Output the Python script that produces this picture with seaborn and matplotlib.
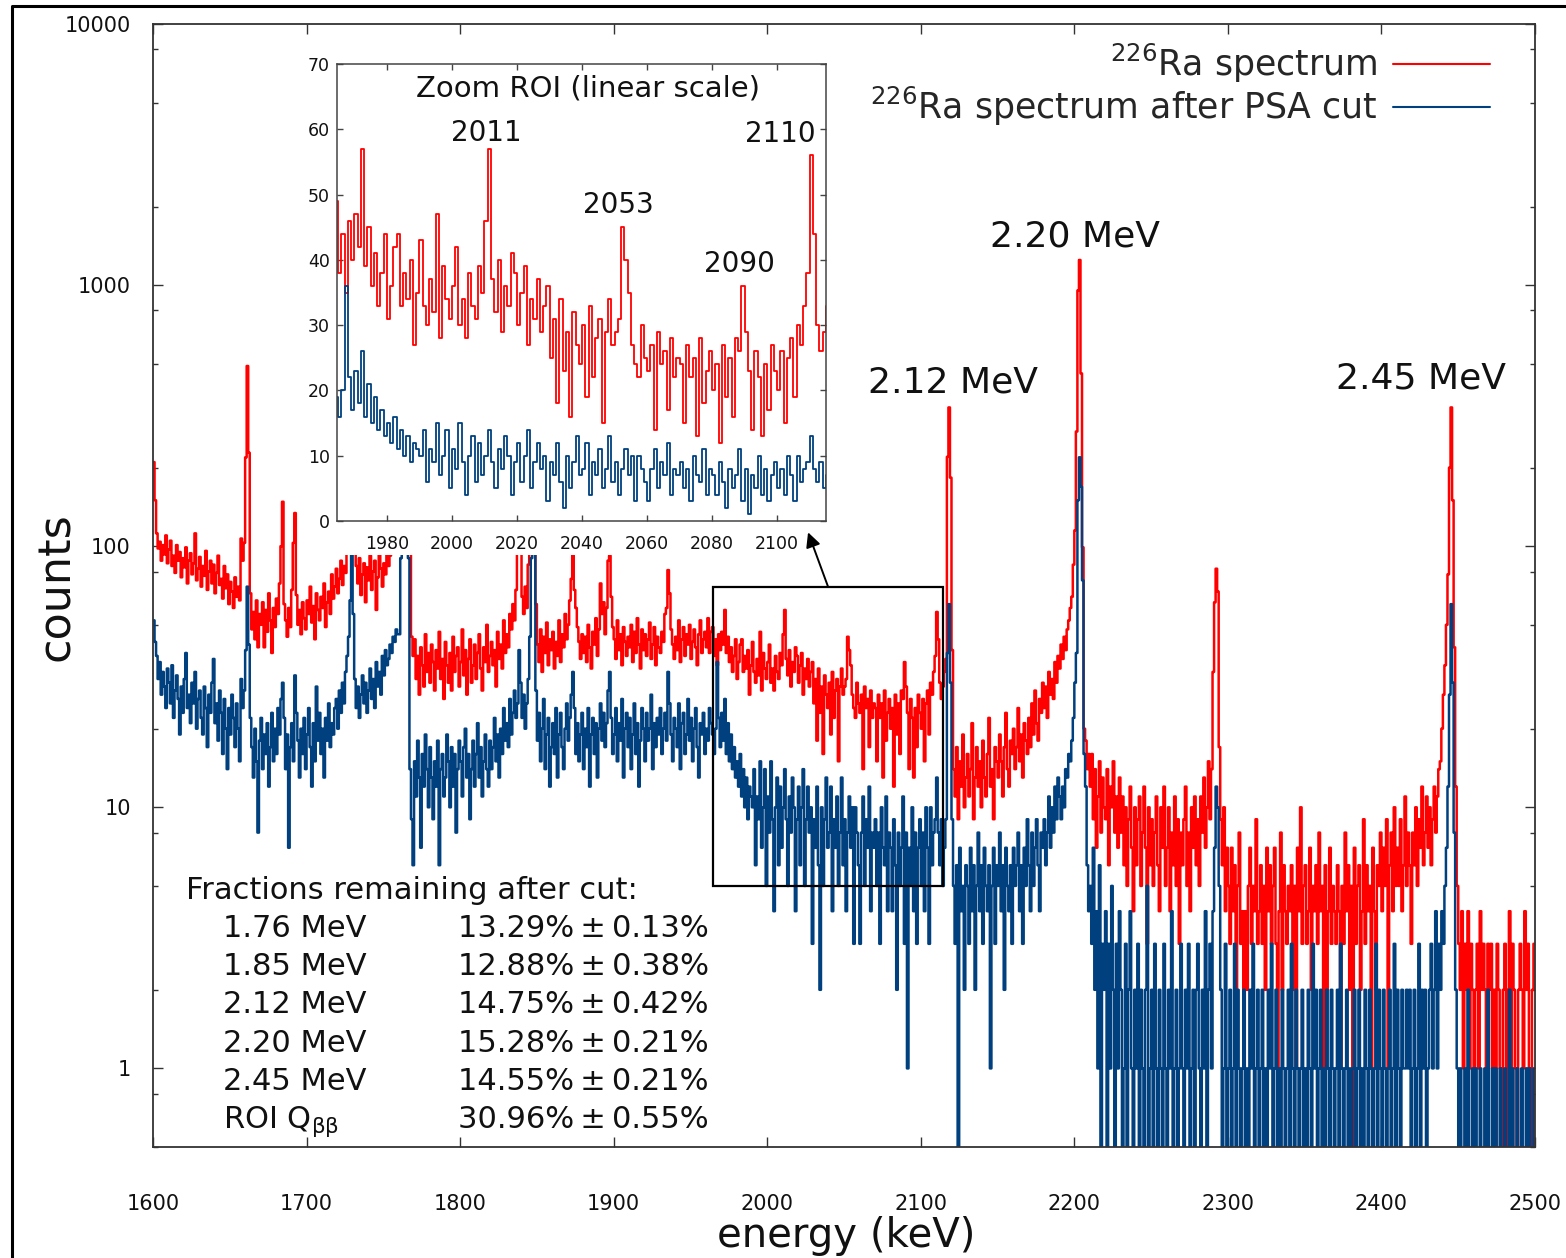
import numpy as np
import matplotlib
matplotlib.use("Agg")
import matplotlib.pyplot as plt
import matplotlib.ticker as mticker
from matplotlib.patches import Rectangle, FancyArrowPatch
from matplotlib.lines import Line2D
import seaborn as sns

# 226Ra spectrum, 1 keV bins starting at 1600 keV (one row = 10 keV)
red_counts = [
    210, 150, 112, 98, 104, 88, 101, 93, 110, 86,      # 1600
    97, 105, 84, 92, 79, 101, 88, 95, 76, 90,          # 1610
    83, 99, 72, 88, 94, 78, 86, 112, 74, 82,           # 1620
    91, 70, 84, 77, 96, 68, 80, 88, 72, 85,            # 1630
    66, 79, 92, 71, 75, 63, 84, 69, 78, 60,            # 1640
    73, 67, 58, 76, 64, 70, 62, 107, 88, 103,          # 1650
    219, 490, 228, 66, 48, 56, 44, 62, 41, 55,         # 1660
    50, 61, 41, 57, 47, 66, 52, 39, 58, 49,            # 1670
    63, 55, 72, 100, 148, 60, 52, 45, 58, 49,          # 1680
    68, 103, 134, 65, 50, 57, 46, 61, 53, 48,          # 1690
    62, 55, 70, 51, 59, 44, 66, 57, 52, 64,            # 1700
    58, 72, 49, 61, 67, 55, 78, 63, 70, 82,            # 1710
    66, 75, 88, 71, 84, 79, 95, 110, 180, 520,         # 1720
    240, 95, 84, 72, 90, 65, 78, 86, 61, 83,           # 1730
    74, 92, 68, 80, 88, 57, 76, 95, 82, 70,            # 1740
    86, 78, 99, 84, 92, 105, 96, 112, 120, 98,         # 1750
    95, 300, 1500, 3000, 3400, 1800, 500, 120, 45, 38, # 1760
    44, 31, 38, 27, 41, 35, 29, 46, 33, 39,            # 1770
    30, 42, 36, 28, 40, 34, 47, 31, 37, 26,            # 1780
    43, 35, 30, 39, 28, 45, 33, 38, 41, 29,            # 1790
    36, 48, 32, 40, 27, 37, 44, 30, 35, 42,            # 1800
    31, 39, 46, 34, 28, 41, 36, 50, 33, 38,            # 1810
    43, 35, 40, 29, 47, 37, 42, 34, 52, 39,            # 1820
    46, 41, 55, 48, 60, 52, 68, 95, 170, 120,          # 1830
    64, 55, 70, 58, 85, 240, 800, 1100, 420, 60,       # 1840
    42, 36, 48, 33, 45, 39, 51, 35, 44, 40,            # 1850
    47, 34, 43, 38, 52, 36, 46, 41, 55, 44,            # 1860
    50, 62, 75, 100, 68, 58, 49, 43, 37, 46,           # 1870
    39, 45, 36, 50, 41, 34, 47, 42, 53, 38,            # 1880
    48, 72, 55, 61, 46, 58, 88, 92, 64, 49,            # 1890
    44, 37, 52, 40, 46, 35, 49, 43, 38, 45,            # 1900
    41, 50, 36, 47, 39, 53, 42, 34, 48, 40,            # 1910
    46, 38, 44, 51, 37, 42, 49, 35, 45, 41,            # 1920
    39, 47, 43, 55, 58, 81, 66, 48, 42, 37,            # 1930
    45, 40, 52, 36, 44, 49, 38, 46, 42, 50,            # 1940
    37, 43, 48, 41, 35, 46, 52, 39, 44, 47,            # 1950
    41, 53, 39, 47, 49, 38, 44, 35, 46, 40,            # 1960
    47, 42, 57, 39, 45, 36, 41, 33, 38, 44,            # 1970
    31, 36, 42, 44, 33, 38, 34, 40, 27, 35,            # 1980
    43, 33, 30, 37, 32, 47, 28, 39, 34, 31,            # 1990
    36, 42, 30, 34, 28, 38, 33, 31, 39, 35,            # 2000
    46, 57, 37, 32, 40, 29, 36, 33, 41, 38,            # 2010
    30, 35, 39, 27, 34, 31, 37, 29, 33, 36,            # 2020
    25, 31, 18, 34, 23, 29, 16, 32, 27, 24,            # 2030
    30, 19, 33, 22, 28, 31, 15, 29, 34, 27,            # 2040
    29, 31, 45, 40, 35, 27, 24, 22, 30, 25,            # 2050
    23, 27, 14, 29, 24, 26, 17, 28, 22, 25,            # 2060
    24, 15, 27, 22, 25, 13, 28, 18, 23, 26,            # 2070
    20, 24, 12, 27, 19, 25, 16, 28, 26, 36,            # 2080
    29, 23, 14, 26, 22, 13, 24, 17, 27, 23,            # 2090
    20, 26, 15, 25, 28, 19, 30, 27, 33, 38,            # 2100
    56, 44, 30, 26, 29, 33, 37, 220, 340, 183,         # 2110
    40, 14, 11, 17, 9, 15, 12, 19, 10, 13,             # 2120
    16, 11, 14, 21, 9, 13, 17, 12, 15, 10,             # 2130
    18, 13, 11, 16, 22, 12, 14, 9, 17, 15,             # 2140
    13, 19, 15, 11, 17, 23, 14, 12, 18, 16,            # 2150
    20, 14, 17, 24, 15, 19, 13, 21, 18, 16,            # 2160
    22, 17, 25, 19, 28, 21, 18, 26, 23, 30,            # 2170
    24, 29, 22, 33, 27, 31, 26, 36, 30, 38,            # 2180
    34, 42, 37, 45, 40, 48, 52, 58, 64, 85,            # 2190
    115, 275, 954, 1248, 459, 99, 20, 18, 14, 16,      # 2200
    12, 16, 9, 14, 7, 11, 15, 8, 13, 10,               # 2210
    9, 14, 6, 12, 10, 15, 8, 11, 7, 13,                # 2220
    8, 11, 6, 10, 5, 9, 12, 7, 4, 10,                  # 2230
    6, 9, 11, 5, 8, 12, 7, 3, 10, 6,                   # 2240
    9, 5, 8, 11, 6, 4, 10, 7, 12, 5,                   # 2250
    7, 10, 4, 8, 6, 11, 5, 9, 3, 8,                    # 2260
    6, 9, 12, 5, 8, 4, 10, 7, 11, 6,                   # 2270
    9, 5, 11, 8, 13, 7, 10, 15, 9, 14,                 # 2280
    33, 61, 82, 67, 17, 9, 6, 10, 4, 7,                # 2290
    5, 3, 7, 4, 6, 2, 5, 8, 3, 4,                      # 2300
    1, 4, 2, 5, 7, 3, 5, 4, 9, 3,                      # 2310
    4, 6, 3, 5, 2, 7, 4, 6, 3, 5,                      # 2320
    7, 3, 1, 4, 8, 2, 6, 4, 3, 5,                      # 2330
    4, 6, 2, 5, 1, 7, 4, 10, 3, 5,                     # 2340
    6, 3, 4, 7, 2, 5, 4, 6, 3, 8,                      # 2350
    4, 5, 1, 6, 2, 4, 7, 3, 5, 4,                      # 2360
    3, 6, 4, 1, 5, 3, 8, 4, 6, 2,                      # 2370
    5, 0, 7, 3, 5, 6, 2, 4, 9, 3,                      # 2380
    6, 4, 5, 1, 7, 4, 2, 6, 5, 8,                      # 2390
    4, 7, 5, 9, 1, 6, 8, 4, 10, 5,                     # 2400
    7, 5, 9, 4, 6, 11, 5, 8, 6, 3,                     # 2410
    8, 6, 10, 5, 9, 7, 12, 6, 8, 11,                   # 2420
    7, 10, 6, 9, 12, 8, 11, 14, 15, 20,                # 2430
    27, 35, 50, 78, 200, 340, 150, 41, 12, 5,          # 2440
    3, 2, 4, 1, 3, 2, 4, 1, 3, 2,                      # 2450
    0, 2, 3, 1, 4, 2, 3, 2, 1, 3,                      # 2460
    2, 3, 1, 2, 0, 3, 2, 1, 0, 2,                      # 2470
    3, 0, 2, 4, 1, 3, 2, 1, 0, 2,                      # 2480
    3, 2, 1, 4, 2, 3, 1, 0, 2, 3,                      # 2490
]

# same spectrum after the PSA cut
blue_counts = [
    52, 43, 38, 31, 36, 27, 33, 29, 24, 34,            # 1600
    30, 25, 35, 22, 28, 32, 26, 19, 29, 23,            # 1610
    31, 39, 24, 27, 21, 30, 25, 33, 20, 26,            # 1620
    28, 22, 19, 29, 24, 17, 27, 23, 30, 37,            # 1630
    21, 25, 18, 28, 23, 16, 26, 20, 14, 24,            # 1640
    19, 27, 22, 17, 25, 20, 15, 31, 24, 28,            # 1650
    40, 70, 42, 22, 17, 13, 20, 15, 8, 18,             # 1660
    22, 14, 19, 16, 21, 12, 17, 23, 15, 20,            # 1670
    16, 24, 19, 26, 30, 22, 14, 19, 7, 17,             # 1680
    21, 15, 32, 23, 18, 13, 20, 16, 22, 14,            # 1690
    19, 24, 17, 12, 21, 15, 29, 18, 23, 16,            # 1700
    20, 13, 22, 18, 25, 17, 21, 19, 24, 26,            # 1710
    20, 28, 23, 30, 25, 33, 38, 45, 62, 105,           # 1720
    55, 31, 24, 29, 22, 27, 32, 25, 30, 23,            # 1730
    28, 34, 26, 31, 24, 36, 29, 33, 27, 38,            # 1740
    32, 40, 35, 37, 42, 39, 45, 43, 48, 46,            # 1750
    46, 90, 240, 420, 450, 260, 90, 14, 9, 6,          # 1760
    15, 11, 18, 13, 7, 16, 12, 19, 14, 10,             # 1770
    17, 13, 9, 15, 12, 18, 6, 14, 16, 11,              # 1780
    13, 19, 15, 10, 17, 12, 16, 8, 14, 18,             # 1790
    15, 11, 17, 20, 13, 16, 9, 14, 18, 12,             # 1800
    16, 21, 13, 17, 11, 15, 19, 14, 12, 18,            # 1810
    14, 17, 22, 15, 19, 13, 20, 16, 24, 18,            # 1820
    21, 17, 26, 19, 23, 28, 22, 25, 40, 30,            # 1830
    22, 27, 20, 25, 31, 45, 90, 140, 110, 28,          # 1840
    18, 23, 15, 20, 26, 14, 19, 22, 12, 17,            # 1850
    21, 16, 24, 13, 19, 23, 17, 14, 20, 25,            # 1860
    18, 22, 27, 33, 24, 16, 21, 15, 19, 23,            # 1870
    14, 20, 17, 24, 12, 19, 22, 16, 21, 13,            # 1880
    20, 25, 18, 23, 17, 21, 28, 33, 22, 16,            # 1890
    19, 24, 15, 21, 18, 26, 13, 20, 23, 17,            # 1900
    22, 14, 19, 25, 16, 21, 12, 18, 24, 20,            # 1910
    15, 23, 18, 20, 27, 14, 21, 17, 22, 19,            # 1920
    24, 16, 20, 23, 18, 33, 25, 19, 15, 22,            # 1930
    20, 17, 25, 14, 21, 23, 16, 19, 26, 18,            # 1940
    22, 15, 20, 24, 17, 13, 21, 19, 23, 16,            # 1950
    20, 18, 24, 21, 19, 16, 20, 36, 22, 17,            # 1960
    23, 18, 26, 16, 21, 15, 19, 14, 17, 13,            # 1970
    15, 12, 16, 11, 14, 10, 13, 9, 12, 11,             # 1980
    10, 14, 6, 11, 9, 15, 7, 10, 14, 5,                # 1990
    11, 8, 15, 9, 4, 10, 13, 6, 12, 7,                 # 2000
    10, 14, 9, 5, 11, 8, 13, 10, 4, 9,                 # 2010
    12, 6, 10, 14, 5, 9, 12, 8, 10, 3,                 # 2020
    9, 7, 12, 6, 2, 10, 5, 9, 13, 7,                   # 2030
    8, 12, 4, 9, 7, 11, 5, 8, 13, 6,                   # 2040
    9, 4, 8, 11, 7, 10, 3, 10, 8, 6,                   # 2050
    3, 8, 11, 5, 9, 7, 12, 4, 8, 7,                    # 2060
    9, 5, 8, 3, 10, 7, 6, 11, 4, 8,                    # 2070
    7, 4, 9, 6, 2, 8, 5, 7, 11, 3,                     # 2080
    8, 1, 7, 5, 10, 4, 8, 3, 7, 9,                     # 2090
    5, 8, 4, 10, 7, 3, 10, 6, 8, 9,                    # 2100
    13, 8, 6, 9, 5, 7, 9, 39, 60, 30,                  # 2110
    9, 5, 3, 6, 0, 7, 4, 5, 2, 6,                      # 2120
    5, 3, 7, 4, 6, 2, 5, 8, 4, 6,                      # 2130
    3, 7, 5, 4, 6, 1, 5, 7, 3, 6,                      # 2140
    5, 8, 4, 6, 2, 7, 5, 4, 6, 3,                      # 2150
    7, 5, 6, 8, 4, 6, 3, 7, 5, 9,                      # 2160
    6, 4, 8, 5, 7, 9, 6, 4, 8, 7,                      # 2170
    9, 6, 8, 11, 7, 10, 8, 12, 9, 13,                  # 2180
    11, 9, 12, 10, 14, 13, 16, 15, 18, 22,             # 2190
    30, 39, 150, 219, 169, 74, 16, 12, 6, 4,           # 2200
    5, 3, 7, 2, 4, 1, 6, 0, 3, 2,                      # 2210
    4, 0, 3, 1, 5, 2, 0, 3, 1, 4,                      # 2220
    2, 0, 1, 3, 0, 2, 4, 1, 0, 2,                      # 2230
    1, 3, 0, 2, 1, 0, 2, 5, 0, 1,                      # 2240
    2, 0, 3, 1, 0, 2, 1, 0, 3, 1,                      # 2250
    0, 2, 1, 4, 0, 1, 2, 0, 1, 3,                      # 2260
    1, 0, 2, 1, 3, 0, 1, 2, 0, 2,                      # 2270
    3, 1, 0, 2, 1, 4, 0, 2, 3, 1,                      # 2280
    4, 7, 12, 10, 5, 2, 0, 1, 3, 0,                    # 2290
    1, 2, 0, 1, 3, 0, 2, 1, 0, 1,                      # 2300
    2, 0, 1, 0, 2, 1, 3, 0, 1, 2,                      # 2310
    0, 1, 2, 0, 1, 0, 2, 1, 3, 0,                      # 2320
    1, 2, 0, 1, 0, 2, 1, 0, 1, 2,                      # 2330
    0, 3, 1, 0, 2, 1, 0, 1, 2, 0,                      # 2340
    1, 0, 2, 1, 0, 3, 1, 2, 0, 1,                      # 2350
    2, 0, 1, 0, 2, 1, 0, 2, 1, 0,                      # 2360
    1, 2, 0, 3, 1, 0, 1, 2, 0, 1,                      # 2370
    0, 1, 2, 0, 1, 2, 0, 1, 0, 2,                      # 2380
    1, 0, 2, 1, 0, 1, 3, 0, 2, 1,                      # 2390
    0, 2, 1, 0, 1, 2, 0, 1, 3, 0,                      # 2400
    2, 1, 0, 2, 1, 1, 2, 1, 2, 0,                      # 2410
    1, 2, 0, 1, 3, 0, 2, 1, 2, 0,                      # 2420
    1, 2, 3, 1, 2, 4, 1, 3, 2, 4,                      # 2430
    3, 5, 7, 12, 27, 60, 30, 8, 2, 1,                  # 2440
    0, 1, 0, 0, 1, 0, 2, 0, 0, 1,                      # 2450
    0, 1, 0, 0, 1, 0, 0, 1, 0, 2,                      # 2460
    0, 0, 1, 0, 1, 0, 0, 1, 0, 0,                      # 2470
    1, 0, 0, 2, 0, 1, 0, 0, 1, 0,                      # 2480
    0, 1, 0, 0, 1, 0, 1, 0, 0, 1,                      # 2490
]

series_labels = [r'$^{226}$Ra spectrum', r'$^{226}$Ra spectrum after PSA cut']
peak_labels = ['2.12 MeV', '2.20 MeV', '2.45 MeV']
peak_label_pos = [(2121, 422), (2200.4, 1541), (2425.7, 437)]
zoom_labels = ['2011', '2053', '2090', '2110']
zoom_label_pos = [(2010.5, 59.4), (2051.3, 48.4), (2088.4, 39.4), (2101.1, 59.3)]
frac_names = ['1.76 MeV', '1.85 MeV', '2.12 MeV', '2.20 MeV', '2.45 MeV',
              r'ROI Q$_{\mathrm{\beta\beta}}$']
frac_values = ['13.29%\u2009\u00b1\u20090.13%', '12.88%\u2009\u00b1\u20090.38%',
               '14.75%\u2009\u00b1\u20090.42%', '15.28%\u2009\u00b1\u20090.21%',
               '14.55%\u2009\u00b1\u20090.21%', '30.96%\u2009\u00b1\u20090.55%']
roi_lo, roi_hi = 1964.5, 2114.5

assert len(red_counts) == 900 and len(blue_counts) == 900
energy = np.arange(1600, 2500) + 0.5
red = np.array(red_counts, dtype=float)
blue = np.array(blue_counts, dtype=float)

RED = '#ff0000'
BLUE = '#00407f'
W, H = 1566, 1258

sns.set_style('ticks')
plt.rcParams['font.family'] = ['DejaVu Sans']
plt.rcParams['mathtext.fontset'] = 'dejavusans'

fig = plt.figure(figsize=(W / 100, H / 100), dpi=100)
ax = fig.add_axes([153 / W, 1 - 1147 / H, (1535 - 153) / W, (1147 - 24) / H])

# main spectrum, log scale
sns.lineplot(x=energy, y=red, ax=ax, color=RED, linewidth=1.8, drawstyle='steps-mid',
             estimator=None, sort=False, label=series_labels[0])
sns.lineplot(x=energy, y=blue, ax=ax, color=BLUE, linewidth=1.8, drawstyle='steps-mid',
             estimator=None, sort=False, label=series_labels[1])
ax.set_yscale('log')
ax.set_xlim(1600, 2500)
ax.set_ylim(0.5, 10000)
ax.set_xlabel('')
ax.set_ylabel('')

ax.xaxis.set_major_locator(mticker.MultipleLocator(100))
ax.xaxis.set_minor_locator(mticker.NullLocator())
ax.yaxis.set_major_locator(mticker.LogLocator(base=10, numticks=10))
ax.yaxis.set_minor_locator(mticker.LogLocator(base=10, subs=(2, 5, 8), numticks=20))
ax.yaxis.set_major_formatter(mticker.FuncFormatter(lambda v, p: f'{v:g}'))
ax.yaxis.set_minor_formatter(mticker.NullFormatter())
ax.tick_params(which='both', direction='in', top=True, right=True,
               color='#333333', labelcolor='#111111')
ax.tick_params(which='major', length=7, width=1.0, labelsize=15)
ax.tick_params(which='minor', length=3.5, width=1.0)
ax.tick_params(axis='x', pad=34)
ax.tick_params(axis='y', pad=16)
for sp in ax.spines.values():
    sp.set_color('#333333')
    sp.set_linewidth(1.3)

# zoom box and arrow
ax.add_patch(Rectangle((roi_lo, 5), roi_hi - roi_lo, 65, fill=False, ec='black',
                       lw=1.6, zorder=5))
fig.add_artist(FancyArrowPatch((2039.6, 70), (2026.6, 113), transform=ax.transData,
                               arrowstyle='-|>', mutation_scale=22, color='black',
                               lw=1.4, shrinkA=0, shrinkB=0, zorder=6))

for txt, (x, y) in zip(peak_labels, peak_label_pos):
    ax.text(x, y, txt, fontsize=26, ha='center', va='center', color='#111111')

legend_handles = [Line2D([], [], color=RED, lw=1.5), Line2D([], [], color=BLUE, lw=1.5)]
ax.legend(legend_handles, series_labels, loc='upper right',
          bbox_to_anchor=(1490 / W, 1 - 42 / H), bbox_transform=fig.transFigure,
          frameon=False, markerfirst=False, alignment='right', fontsize=25,
          handlelength=2.8, handletextpad=0.45, labelspacing=0.0,
          borderpad=0, borderaxespad=0)

# inset: ROI in linear scale
ax_in = fig.add_axes([337 / W, 1 - 521 / H, (826 - 337) / W, (521 - 64) / H])
ax_in.set_zorder(3)
ax_in.add_patch(Rectangle((0, -34 / 457), 1, 34 / 457, transform=ax_in.transAxes,
                          facecolor='white', edgecolor='none', clip_on=False, zorder=0))
sel = (energy > roi_lo - 2) & (energy < roi_hi + 2)
sns.lineplot(x=energy[sel], y=red[sel], ax=ax_in, color=RED, linewidth=1.3,
             drawstyle='steps-mid', estimator=None, sort=False)
sns.lineplot(x=energy[sel], y=blue[sel], ax=ax_in, color=BLUE, linewidth=1.3,
             drawstyle='steps-mid', estimator=None, sort=False)
ax_in.set_xlim(1964.65, 2115.0)
ax_in.set_ylim(0, 70)
ax_in.set_xlabel('')
ax_in.set_ylabel('')
ax_in.xaxis.set_major_locator(mticker.MultipleLocator(20))
ax_in.yaxis.set_major_locator(mticker.MultipleLocator(10))
ax_in.tick_params(which='both', direction='in', top=True, right=True, length=4,
                  width=1.0, color='#444444', labelsize=12.5, labelcolor='#111111')
ax_in.tick_params(axis='x', pad=10)
ax_in.tick_params(axis='y', pad=5)
for sp in ax_in.spines.values():
    sp.set_color('#444444')
    sp.set_linewidth(1.1)
ax_in.text(2041.8, 66.2, 'Zoom ROI (linear scale)', fontsize=21, ha='center',
           va='center', color='#111111')
for txt, (x, y) in zip(zoom_labels, zoom_label_pos):
    ax_in.text(x, y, txt, fontsize=20, ha='center', va='center', color='#111111')

# fractions table
fig.text(186 / W, 1 - 899 / H, 'Fractions remaining after cut:', fontsize=22,
         ha='left', va='baseline', color='#111111')
for k, (name, val) in enumerate(zip(frac_names, frac_values)):
    yb = 1 - (937 + 38.2 * k) / H
    fig.text(223 / W, yb, name, fontsize=22, ha='left', va='baseline', color='#111111')
    fig.text(709 / W, yb, val, fontsize=22, ha='right', va='baseline', color='#111111')

# axis titles
fig.text(56 / W, 1 - 587 / H, 'counts', rotation=90, fontsize=32, ha='center',
         va='center', color='#111111')
fig.text(846 / W, 1 - 1236 / H, 'energy (keV)', fontsize=29, ha='center',
         va='center', color='#111111')

# outer frame (left and top edges)
fig.add_artist(Line2D([12 / W, 12 / W, 1.0], [0.0, 1 - 6 / H, 1 - 6 / H],
                      transform=fig.transFigure, color='black', lw=2.2, zorder=7))

fig.savefig('out.png', dpi=100)
